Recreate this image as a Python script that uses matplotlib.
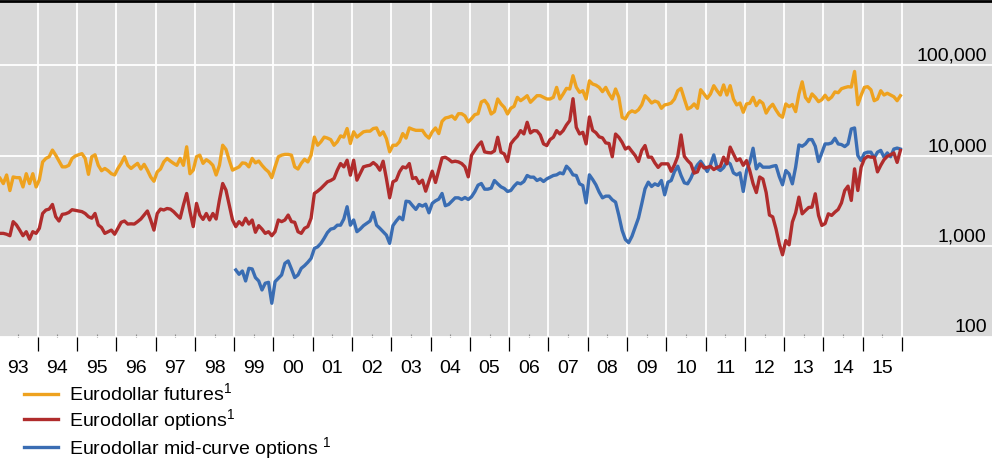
import numpy as np
import matplotlib
matplotlib.use('Agg')
import matplotlib.pyplot as plt
from matplotlib.lines import Line2D
from matplotlib.ticker import NullLocator

plt.rcParams['font.family'] = ['Liberation Sans', 'DejaVu Sans']
plt.rcParams['mathtext.fontset'] = 'custom'
plt.rcParams['mathtext.rm'] = 'Liberation Sans'

# monthly turnover, one row per year
FUTURES_START = 1993
futures = [
    5600, 4900, 6100, 4100, 5800, 5700, 5700, 4500, 6300, 4900, 6300, 4500,        # 1993
    5400, 8500, 9300, 9700, 11500, 10100, 8700, 7500, 7500, 7800, 9300, 9900,      # 1994
    10200, 10500, 9300, 6200, 9700, 10200, 7800, 6800, 7200, 6800, 6300, 6100,     # 1995
    7200, 8200, 9700, 7800, 7200, 7700, 8200, 7100, 8000, 6900, 5800, 5200,        # 1996
    6600, 7100, 8500, 9300, 8700, 8200, 7800, 9300, 7800, 12500, 6300, 6900,       # 1997
    9700, 10100, 8200, 9000, 8500, 7800, 6100, 7800, 13000, 11700, 8900, 6900,     # 1998
    7200, 7500, 8300, 8200, 7500, 9300, 8300, 8700, 7800, 7100, 6600, 5700,        # 1999
    7500, 9700, 10100, 10300, 10300, 10100, 7500, 7100, 8200, 9100, 8500, 10100,   # 2000
    16000, 13000, 14200, 16000, 15600, 15000, 13000, 14200, 16500, 16000, 19900, 13600,
    18300, 16000, 17100, 18300, 18600, 18600, 19900, 20200, 16800, 18300, 15400, 11000,
    13000, 13000, 14200, 17500, 15600, 20200, 19500, 19000, 19000, 19000, 16800, 15600,
    18300, 20200, 17500, 23900, 26000, 26500, 27400, 25200, 29000, 29000, 27400, 23500,
    25600, 28300, 29000, 39100, 40800, 36500, 28800, 30600, 42200, 37200, 34100, 28800,
    33300, 35000, 44000, 40400, 42900, 45900, 38800, 42200, 45900, 45900, 44000, 42200,
    42200, 44000, 56700, 42200, 48000, 55300, 54400, 76300, 57000, 50000, 52100, 42200,
    67000, 61700, 60000, 56700, 50900, 56700, 48000, 42200, 54400, 44000, 26500, 25400,
    29500, 31200, 30100, 32100, 36300, 45900, 42200, 38100, 40000, 38800, 33300, 36300,
    36900, 38100, 42200, 52100, 55300, 42200, 32700, 34100, 37200, 33300, 53400, 48000,
    42900, 48000, 59200, 52100, 46700, 60300, 46700, 59200, 42200, 36300, 38100, 30100,
    37200, 37800, 44000, 35600, 40400, 37800, 29500, 33900, 36900, 31900, 28100, 26500,
    37200, 34700, 36700, 30600, 48000, 65300, 44000, 39400, 48000, 44000, 39400, 41500,
    46400, 41400, 44300, 50500, 49500, 54800, 56400, 57700, 57200, 85000, 36500, 46400,
    56700, 57700, 53400, 40400, 42200, 52100, 46700, 48800, 46700, 44700, 40400, 45900,  # 2015
]

OPTIONS_START = 1993
options = [
    1380, 1380, 1350, 1300, 1860, 1710, 1500, 1300, 1440, 1190, 1440, 1380,
    1570, 2290, 2500, 2560, 2880, 2110, 1890, 2240, 2270, 2350, 2520, 2480,
    2440, 2400, 2290, 2110, 2030, 2290, 1710, 1600, 1380, 1440, 1500, 1350,
    1570, 1830, 1890, 1750, 1760, 1750, 1860, 1990, 2200, 2440, 1940, 1500,
    2290, 2560, 2500, 2600, 2560, 2400, 2200, 2030, 2830, 3810, 2400, 1640,
    2960, 2200, 1970, 2290, 1940, 2290, 1990, 3220, 4910, 4150, 2830, 1940,
    1640, 1860, 1710, 2030, 1750, 1940, 1420, 1680, 1540, 1380, 1440, 1300,
    1440, 1940, 1860, 1940, 2200, 1860, 1830, 1440, 1380, 1570, 1640, 2030,
    3810, 4040, 4330, 4710, 5130, 5300, 5570, 6890, 8160, 7500, 8880, 6070,
    8880, 5350, 6330, 7500, 7690, 7820, 8370, 7820, 6890, 8660, 5570, 3410,
    5130, 5350, 6610, 7500, 7300, 8160, 5570, 5720, 4910, 5350, 4040, 5210,
    6720, 5040, 6890, 9420, 9580, 9110, 8510, 8660, 8510, 8160, 7500, 5820,
    10080, 11450, 12950, 14160, 10980, 10790, 10700, 11260, 15930, 10880, 10430, 8590,
    13450, 15020, 16340, 18870, 17340, 23320, 17780, 18870, 18710, 16900, 13450, 12890,
    15020, 15930, 18870, 17340, 18870, 21790, 24320, 42500, 20500, 17340, 18080, 13450,
    26700, 19000, 17900, 16100, 15700, 13800, 13600, 9700, 17300, 15900, 14000, 11800,
    12400, 11100, 10000, 8600, 11400, 12900, 9600, 9600, 8300, 7400, 8100, 8100,
    8100, 6700, 7900, 9800, 16900, 9800, 8800, 8100, 6400, 6600, 8100, 7300,
    7400, 7600, 7000, 7400, 7600, 9600, 8100, 12400, 10400, 8800, 9200, 7800,
    8800, 6800, 4900, 3900, 5800, 5500, 3900, 2200, 2100, 1550, 1060, 800,
    1150, 1030, 1840, 2330, 3470, 2270, 2470, 2670, 2690, 3780, 2180, 1690,
    1770, 2270, 2180, 2370, 2540, 3000, 4110, 4590, 3190, 7130, 4110, 7440,
    9200, 9800, 9600, 9600, 6600, 7800, 9000, 9800, 10200, 10700, 8400, 11400,
]

MIDCURVE_START = 1999
midcurve = [
    544, 487, 530, 411, 567, 558, 448, 411, 327, 388, 397, 233,
    404, 440, 479, 644, 684, 558, 448, 479, 567, 607, 661, 731,
    940, 980, 1070, 1220, 1410, 1540, 1570, 1700, 1700, 1990, 2720, 1700,
    1940, 1440, 1540, 1680, 1780, 1890, 2350, 1700, 1570, 1440, 1320, 1070,
    1680, 1890, 2090, 1950, 3130, 3090, 2790, 2540, 2880, 2760, 2900, 2330,
    2960, 3160, 3300, 3810, 2790, 2880, 3130, 3410, 3410, 3270, 3440, 3270,
    3500, 3980, 4710, 4910, 4250, 4250, 4360, 5300, 4870, 4510, 4330, 4010,
    4110, 4590, 5000, 4870, 5170, 6020, 5770, 5770, 5300, 5530, 5170, 5530,
    5770, 6020, 6120, 6440, 6280, 7630, 7010, 6120, 6020, 4870, 4670, 3000,
    6120, 5440, 4750, 3940, 3410, 3560, 3560, 3240, 3060, 2180, 1490, 1180,
    1090, 1280, 1620, 2040, 2930, 4290, 5080, 4550, 4870, 4670, 5300, 3680,
    5080, 5300, 6660, 7630, 6020, 5000, 4870, 5620, 6830, 7890, 8660, 7630,
    6660, 7890, 10170, 7250, 6830, 7370, 8590, 8090, 6440, 6120, 6440, 4010,
    6830, 8440, 12050, 7130, 8090, 7440, 7440, 7440, 7630, 7760, 5870, 4750,
    6830, 6280, 4870, 7440, 13110, 12670, 13450, 15020, 15020, 12670, 8590, 10700,
    13450, 13450, 13790, 15530, 13450, 13220, 12570, 13450, 19680, 20190, 10000, 8810,
    10600, 10900, 10900, 9400, 10900, 11400, 9600, 10700, 9700, 11800, 12100, 11800,
]

year_labels = ['93', '94', '95', '96', '97', '98', '99', '00', '01', '02', '03', '04',
               '05', '06', '07', '08', '09', '10', '11', '12', '13', '14', '15']
first_label_year = 1993
y_levels = [100, 1000, 10000, 100000]

series_names = [r'Eurodollar futures$^{\mathregular{1}}$',
                r'Eurodollar options$^{\mathregular{1}}$',
                r'Eurodollar mid-curve options $^{\mathregular{1}}$']

ORANGE = '#eea21f'
RED = '#b02c2c'
BLUE = '#3a6db3'
BG = '#d9d9d9'


def month_axis(start_year, values):
    # mid-month positions in decimal years
    return start_year + (np.arange(len(values)) + 0.5) / 12.0


fig = plt.figure(figsize=(9.92, 4.6), dpi=100)
ax = fig.add_axes([0, 1 - 337.5 / 460, 1, 335.5 / 460])
ax.set_facecolor(BG)
ax.set_yscale('log')

ax.plot(month_axis(MIDCURVE_START, midcurve), midcurve, color=BLUE, lw=2.4, zorder=3)
ax.plot(month_axis(OPTIONS_START, options), options, color=RED, lw=2.4, zorder=4)
ax.plot(month_axis(FUTURES_START, futures), futures, color=ORANGE, lw=2.4, zorder=5)

ax.set_xlim(1993.04, 2018.29)
ax.set_ylim(102, 511000)

# year boundaries: white grid + black ticks below
ax.set_xticks(range(first_label_year + 1, first_label_year + len(year_labels) + 1))
ax.set_xticklabels([])
mids = [first_label_year + i + 0.5 for i in range(len(year_labels))]
ax.set_xticks(mids, minor=True)
ax.set_xticklabels(year_labels, minor=True)
ax.tick_params(axis='x', which='major', direction='out', length=10, width=0.9, color='black')
ax.tick_params(axis='x', which='minor', direction='in', length=2.5, width=0.8,
               color='#8c8c8c', pad=16.5, labelsize=14)

ax.set_yticks(y_levels)
ax.yaxis.set_minor_locator(NullLocator())
ax.tick_params(axis='y', which='both', length=0, labelleft=False)
ax.grid(which='major', color='white', lw=1.3)

for v in y_levels:
    ax.annotate(f'{v:,}', xy=(0.9947, v), xycoords=('axes fraction', 'data'),
                xytext=(0, 1), textcoords='offset points', ha='right', va='bottom',
                fontsize=14, annotation_clip=False)

for side in ['left', 'right', 'bottom']:
    ax.spines[side].set_visible(False)
ax.spines['top'].set_color('black')
ax.spines['top'].set_linewidth(2)

handles = [Line2D([], [], color=c, lw=2.4) for c in (ORANGE, RED, BLUE)]
fig.legend(handles, series_names, loc='upper left',
           bbox_to_anchor=(24 / 992, 1 - 383 / 460), frameon=False, fontsize=14,
           handlelength=1.75, handletextpad=0.57, labelspacing=0.07,
           borderpad=0, borderaxespad=0)

fig.savefig('out.png', dpi=100)
